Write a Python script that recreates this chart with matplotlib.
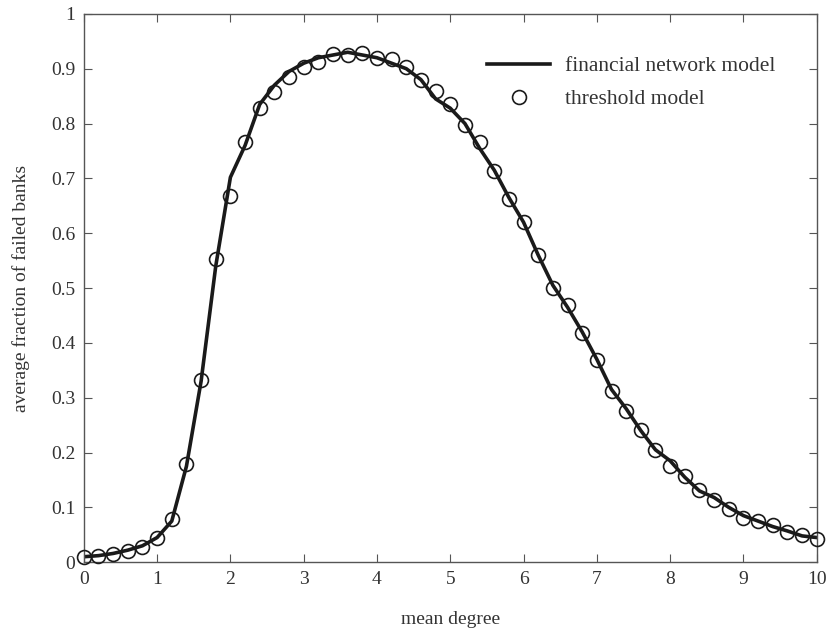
import matplotlib
matplotlib.use("Agg")
import matplotlib.pyplot as plt

# mean degree (sampled every 0.2)
mean_degree = [i / 5 for i in range(51)]

# financial network model (solid line)
network_model = [
    0.010, 0.012, 0.016, 0.022, 0.030, 0.045, 0.075, 0.175, 0.330, 0.540,
    0.702, 0.760, 0.835, 0.870, 0.895, 0.910, 0.920, 0.925, 0.930, 0.925,
    0.920, 0.910, 0.900, 0.880, 0.845, 0.828, 0.800, 0.755, 0.715, 0.665,
    0.620, 0.560, 0.505, 0.465, 0.420, 0.370, 0.315, 0.280, 0.240, 0.205,
    0.185, 0.155, 0.130, 0.118, 0.100, 0.085, 0.075, 0.065, 0.057, 0.048,
    0.045,
]

# threshold model (circles)
threshold_model = [
    0.010, 0.012, 0.015, 0.020, 0.028, 0.045, 0.078, 0.180, 0.333, 0.553,
    0.668, 0.767, 0.829, 0.858, 0.885, 0.903, 0.913, 0.927, 0.925, 0.928,
    0.920, 0.918, 0.903, 0.880, 0.860, 0.835, 0.797, 0.767, 0.713, 0.663,
    0.621, 0.560, 0.500, 0.470, 0.418, 0.368, 0.313, 0.275, 0.242, 0.205,
    0.176, 0.157, 0.132, 0.113, 0.097, 0.080, 0.075, 0.067, 0.055, 0.050,
    0.042,
]

x_ticks = list(range(11))
y_ticks = [i / 10 for i in range(11)]
y_tick_labels = ["0"] + [f"{v:.1f}" for v in y_ticks[1:-1]] + ["1"]

text_color = "#333333"
plt.rcParams["font.family"] = ["Liberation Serif", "DejaVu Serif"]

fig = plt.figure(figsize=(8.3, 6.31), dpi=100)
ax = fig.add_axes([0.101, 0.109, 0.883, 0.869])

ax.plot(mean_degree, network_model, color="#1a1a1a", lw=2.6,
        label="financial network model", zorder=2)
ax.plot(mean_degree, threshold_model, linestyle="none", marker="o",
        markersize=10, markerfacecolor="none", markeredgecolor="#1a1a1a",
        markeredgewidth=1.2, label="threshold model", zorder=3,
        clip_on=False)

ax.set_xlim(0, 10)
ax.set_ylim(0, 1)
ax.set_xticks(x_ticks)
ax.set_xticklabels([str(t) for t in x_ticks])
ax.set_yticks(y_ticks)
ax.set_yticklabels(y_tick_labels)

for sp in ax.spines.values():
    sp.set_color("#555555")
    sp.set_linewidth(1.0)
ax.tick_params(direction="in", top=True, right=True, length=6,
               color="#555555", labelsize=14, labelcolor=text_color, pad=6)

ax.set_xlabel("mean degree", fontsize=14, color=text_color, labelpad=17)
ax.set_ylabel("average fraction of failed banks", fontsize=14,
              color=text_color, labelpad=15)

leg = ax.legend(loc="upper right", bbox_to_anchor=(0.970, 0.958),
                frameon=False, fontsize=15.5, handlelength=2.9,
                labelspacing=0.6, handletextpad=0.7)
for t in leg.get_texts():
    t.set_color(text_color)

fig.savefig("out.png", dpi=100)
